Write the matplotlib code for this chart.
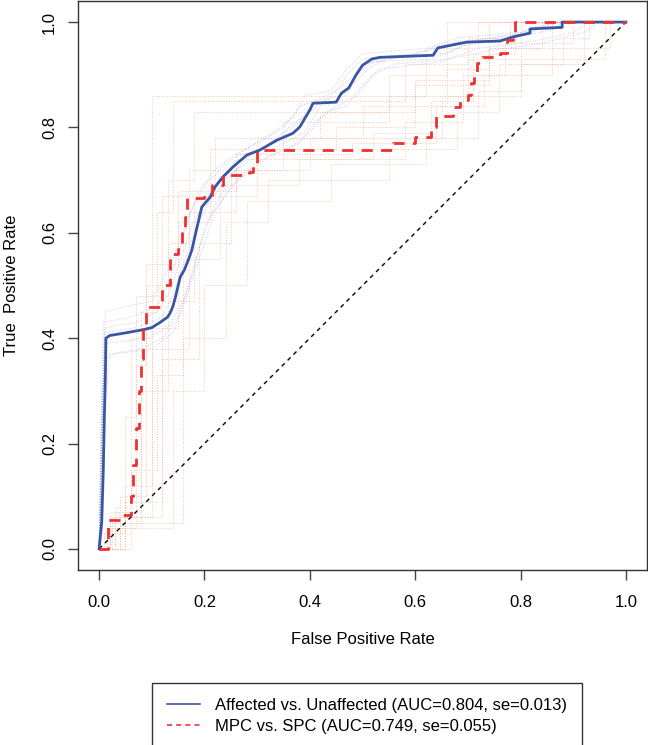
import matplotlib
matplotlib.use('Agg')
import matplotlib.pyplot as plt
from matplotlib.lines import Line2D

plt.rcParams['font.family'] = ['Liberation Sans', 'DejaVu Sans']

# main curves (fpr, tpr)
aff_fpr = [0, 0.005, 0.008, 0.010, 0.012, 0.013, 0.02, 0.05, 0.083, 0.10, 0.116, 0.130, 0.135,
           0.140, 0.145, 0.154, 0.162, 0.170, 0.176, 0.186, 0.195, 0.211, 0.220, 0.235, 0.254,
           0.281, 0.305, 0.338, 0.368, 0.381, 0.400, 0.406, 0.450, 0.460, 0.474, 0.488, 0.500,
           0.518, 0.533, 0.634, 0.643, 0.698, 0.761, 0.786, 0.818, 0.818, 0.879, 0.879, 1.0]
aff_tpr = [0, 0.05, 0.15, 0.25, 0.33, 0.40, 0.405, 0.41, 0.416, 0.42, 0.43, 0.44, 0.448,
           0.46, 0.478, 0.516, 0.53, 0.55, 0.567, 0.611, 0.649, 0.668, 0.687, 0.706, 0.725,
           0.748, 0.757, 0.776, 0.789, 0.801, 0.833, 0.846, 0.848, 0.865, 0.875, 0.90, 0.918,
           0.930, 0.933, 0.937, 0.951, 0.962, 0.964, 0.972, 0.979, 0.987, 0.990, 1.0, 1.0]

mpc_fpr = [0, 0.017, 0.045, 0.060, 0.065, 0.070, 0.075, 0.080, 0.084, 0.090, 0.120, 0.135,
           0.150, 0.157, 0.163, 0.167, 0.200, 0.215, 0.235, 0.285, 0.292, 0.300, 0.558, 0.600,
           0.630, 0.640, 0.672, 0.685, 0.700, 0.705, 0.712, 0.718, 0.727, 0.761, 0.774, 0.786,
           0.789, 1.0]
mpc_tpr = [0, 0.055, 0.065, 0.10, 0.16, 0.23, 0.30, 0.36, 0.42, 0.46, 0.50, 0.56,
           0.57, 0.60, 0.63, 0.666, 0.672, 0.69, 0.71, 0.716, 0.726, 0.757, 0.770, 0.782,
           0.801, 0.822, 0.839, 0.852, 0.862, 0.885, 0.905, 0.922, 0.933, 0.941, 0.966, 0.979,
           1.0, 1.0]

# bootstrap curves (approximate)
aff_boot = [
    ([0, 0.005, 0.008, 0.06, 0.11, 0.13, 0.15, 0.17, 0.20, 0.24, 0.28, 0.33, 0.37, 0.39, 0.44, 0.47, 0.50, 0.62, 0.68, 0.80, 0.85, 1],
     [0, 0.30, 0.43, 0.44, 0.46, 0.50, 0.56, 0.63, 0.69, 0.73, 0.76, 0.79, 0.82, 0.86, 0.87, 0.91, 0.94, 0.95, 0.97, 0.98, 1.0, 1]),
    ([0, 0.01, 0.02, 0.08, 0.12, 0.15, 0.17, 0.19, 0.21, 0.24, 0.27, 0.31, 0.36, 0.40, 0.43, 0.47, 0.50, 0.53, 0.65, 0.72, 0.83, 0.90, 0.93, 1],
     [0, 0.25, 0.37, 0.38, 0.40, 0.44, 0.50, 0.57, 0.63, 0.67, 0.71, 0.74, 0.76, 0.79, 0.83, 0.84, 0.88, 0.91, 0.925, 0.95, 0.965, 0.98, 1.0, 1]),
    ([0, 0.004, 0.01, 0.07, 0.12, 0.14, 0.16, 0.18, 0.21, 0.25, 0.29, 0.34, 0.38, 0.41, 0.46, 0.49, 0.52, 0.63, 0.69, 0.78, 0.86, 0.88, 1],
     [0, 0.20, 0.41, 0.42, 0.44, 0.48, 0.54, 0.60, 0.66, 0.71, 0.75, 0.78, 0.81, 0.85, 0.86, 0.90, 0.925, 0.93, 0.955, 0.97, 0.985, 1.0, 1]),
    ([0, 0.006, 0.015, 0.09, 0.13, 0.16, 0.18, 0.20, 0.23, 0.26, 0.30, 0.35, 0.39, 0.42, 0.46, 0.48, 0.51, 0.55, 0.66, 0.70, 0.79, 0.83, 0.87, 1],
     [0, 0.30, 0.39, 0.40, 0.42, 0.47, 0.53, 0.61, 0.67, 0.72, 0.745, 0.77, 0.79, 0.84, 0.85, 0.88, 0.91, 0.935, 0.94, 0.96, 0.97, 0.99, 1.0, 1]),
    ([0, 0.003, 0.012, 0.05, 0.10, 0.12, 0.14, 0.165, 0.19, 0.22, 0.26, 0.31, 0.35, 0.38, 0.42, 0.45, 0.47, 0.50, 0.60, 0.66, 0.75, 0.82, 0.86, 1],
     [0, 0.10, 0.45, 0.46, 0.47, 0.51, 0.55, 0.62, 0.68, 0.72, 0.75, 0.775, 0.80, 0.84, 0.855, 0.87, 0.90, 0.93, 0.94, 0.96, 0.97, 0.98, 1.0, 1]),
    ([0, 0.01, 0.03, 0.10, 0.14, 0.16, 0.18, 0.20, 0.22, 0.25, 0.29, 0.33, 0.38, 0.41, 0.45, 0.49, 0.52, 0.56, 0.66, 0.74, 0.84, 0.92, 0.95, 1],
     [0, 0.36, 0.37, 0.38, 0.41, 0.46, 0.52, 0.58, 0.64, 0.69, 0.72, 0.75, 0.77, 0.81, 0.84, 0.86, 0.90, 0.92, 0.93, 0.945, 0.96, 0.98, 1.0, 1]),
    ([0, 0.007, 0.012, 0.07, 0.11, 0.135, 0.155, 0.175, 0.205, 0.235, 0.27, 0.32, 0.36, 0.40, 0.44, 0.475, 0.505, 0.58, 0.64, 0.72, 0.80, 0.88, 1],
     [0, 0.28, 0.42, 0.43, 0.45, 0.49, 0.55, 0.61, 0.67, 0.70, 0.74, 0.765, 0.80, 0.83, 0.86, 0.89, 0.92, 0.935, 0.95, 0.965, 0.98, 1.0, 1]),
]

mpc_boot = [
    ([0, 0.03, 0.06, 0.10, 0.62, 0.72, 1], [0, 0.08, 0.40, 0.86, 0.95, 1.0, 1]),
    ([0, 0.02, 0.08, 0.11, 0.14, 0.58, 0.70, 0.78, 1], [0, 0.05, 0.45, 0.64, 0.85, 0.92, 0.97, 1.0, 1]),
    ([0, 0.04, 0.09, 0.13, 0.18, 0.55, 0.66, 1], [0, 0.10, 0.50, 0.70, 0.83, 0.90, 1.0, 1]),
    ([0, 0.05, 0.10, 0.15, 0.21, 0.45, 0.60, 0.74, 0.97, 1], [0, 0.12, 0.42, 0.62, 0.76, 0.80, 0.88, 0.95, 1.0, 1]),
    ([0, 0.03, 0.12, 0.19, 0.25, 0.40, 0.65, 0.80, 0.92, 1], [0, 0.06, 0.36, 0.58, 0.72, 0.78, 0.86, 0.92, 1.0, 1]),
    ([0, 0.06, 0.11, 0.16, 0.23, 0.38, 0.58, 0.69, 0.77, 0.90, 1], [0, 0.15, 0.33, 0.55, 0.69, 0.74, 0.81, 0.90, 0.96, 1.0, 1]),
    ([0, 0.02, 0.14, 0.20, 0.28, 0.44, 0.62, 0.72, 0.80, 0.96, 1], [0, 0.04, 0.30, 0.50, 0.66, 0.73, 0.78, 0.87, 0.93, 1.0, 1]),
    ([0, 0.01, 0.05, 0.07, 0.12, 0.30, 0.50, 0.66, 0.74, 1], [0, 0.03, 0.25, 0.48, 0.67, 0.78, 0.84, 0.91, 1.0, 1]),
    ([0, 0.04, 0.16, 0.24, 0.32, 0.55, 0.68, 0.76, 0.88, 0.93, 1], [0, 0.05, 0.40, 0.62, 0.70, 0.76, 0.83, 0.92, 0.97, 1.0, 1]),
    ([0, 0.02, 0.08, 0.13, 0.17, 0.35, 0.55, 0.70, 0.80, 1], [0, 0.07, 0.30, 0.58, 0.72, 0.81, 0.86, 0.93, 1.0, 1]),
    ([0, 0.015, 0.07, 0.09, 0.15, 0.26, 0.52, 0.63, 0.71, 0.79, 1], [0, 0.04, 0.35, 0.54, 0.68, 0.74, 0.79, 0.85, 0.94, 1.0, 1]),
    ([0, 0.05, 0.12, 0.18, 0.22, 0.42, 0.60, 0.74, 0.84, 1], [0, 0.09, 0.47, 0.66, 0.78, 0.83, 0.89, 0.95, 1.0, 1]),
    ([0, 0.025, 0.10, 0.17, 0.26, 0.48, 0.64, 0.73, 0.86, 1], [0, 0.06, 0.38, 0.64, 0.75, 0.77, 0.84, 0.90, 1.0, 1]),
]

labels = ['Affected vs. Unaffected (AUC=0.804, se=0.013)',
          'MPC vs. SPC (AUC=0.749, se=0.055)']
ticks = [0.0, 0.2, 0.4, 0.6, 0.8, 1.0]

blue = '#3a55a4'
red = '#f03030'

fig = plt.figure(figsize=(6.48, 7.45), dpi=100)
ax = fig.add_axes([78/648, 1-570/745, 569/648, 569/745])

for fx, ty in mpc_boot:
    ax.plot(fx, ty, drawstyle='steps-post', ls=':', lw=0.7, color='#f7a07a', alpha=0.6)
for fx, ty in aff_boot:
    ax.plot(fx, ty, ls=':', lw=0.7, color='#8088cc', alpha=0.45)

ax.plot([0, 1], [0, 1], ls=(0, (3, 3)), lw=1.0, color='black')
ax.plot(aff_fpr, aff_tpr, color=blue, lw=2.0)
ax.plot(mpc_fpr, mpc_tpr, drawstyle='steps-post', color=red, lw=2.0, ls=(0, (4, 3)))

ax.set_xlim(-0.04, 1.04)
ax.set_ylim(-0.04, 1.04)
ax.set_xticks(ticks)
ax.set_yticks(ticks)
ax.set_xticklabels(['%.1f' % t for t in ticks])
ax.set_yticklabels(['%.1f' % t for t in ticks], rotation=90, va='center')
ax.tick_params(direction='out', length=7, width=1, labelsize=12, color='#444444', pad=8)
ax.tick_params(axis='x', pad=11)
for s in ax.spines.values():
    s.set_color('#333333')
    s.set_linewidth(1.0)

ax.set_xlabel('False Positive Rate', fontsize=12, labelpad=16)
ax.set_ylabel('True  Positive Rate', fontsize=12, labelpad=17)

handles = [Line2D([], [], color=blue, lw=1.2),
           Line2D([], [], color=red, lw=1.2, ls=(0, (3, 2.5)))]
leg = fig.legend(handles, labels, loc='upper center', bbox_to_anchor=(367/648, 1-683/745),
                 fontsize=12, frameon=True, fancybox=False, edgecolor='black',
                 handlelength=2.0, handletextpad=0.9, borderpad=0.9, labelspacing=0.35,
                 borderaxespad=0)
leg.get_frame().set_linewidth(1.0)

plt.savefig('out.png', dpi=100)
